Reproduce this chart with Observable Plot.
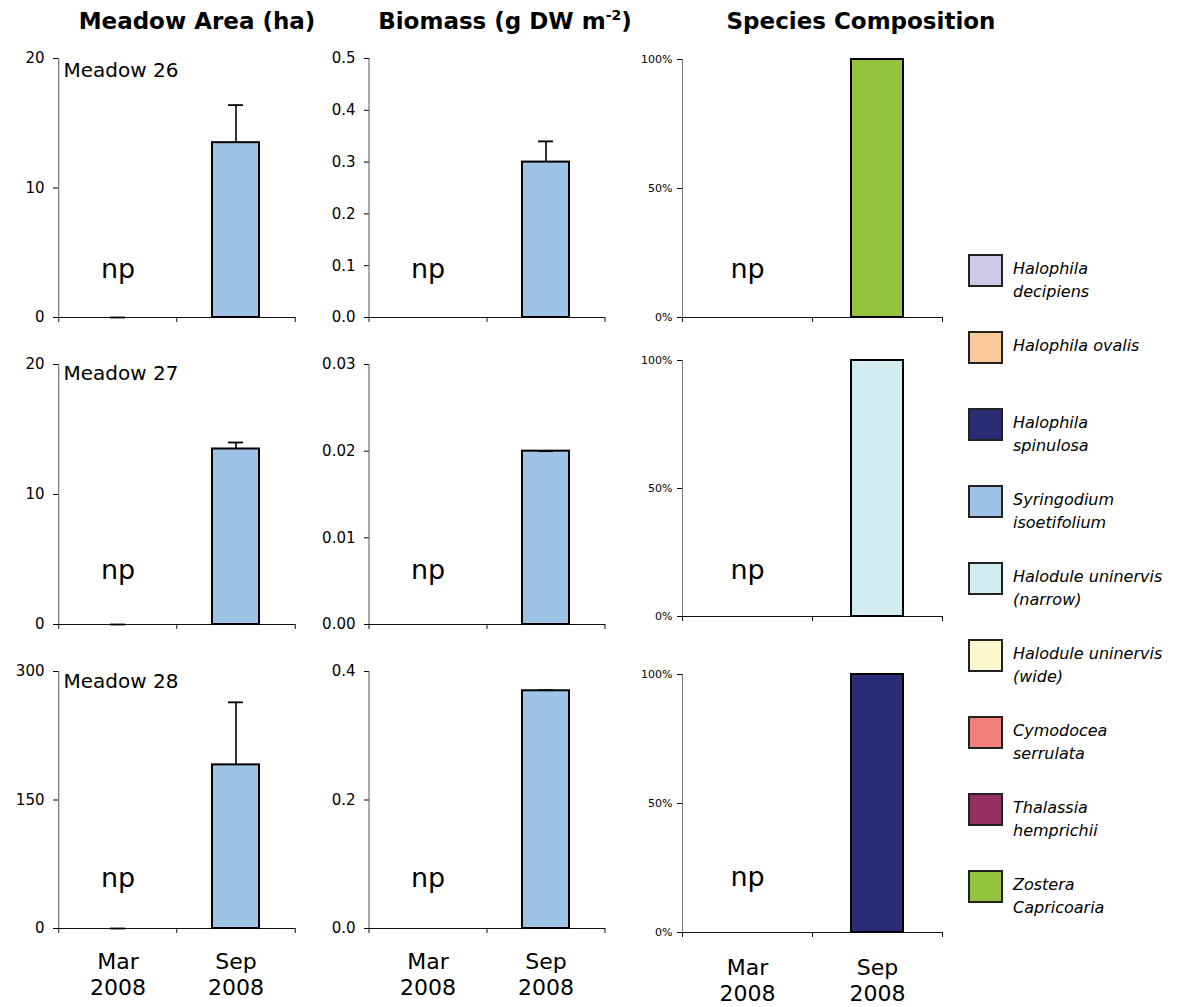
<!DOCTYPE html>
<html>
<head>
<meta charset="utf-8">
<script src="https://cdn.jsdelivr.net/npm/d3@7"></script>
<script src="https://cdn.jsdelivr.net/npm/@observablehq/plot@0.6"></script>
<style>
  html, body { margin: 0; padding: 0; background: #fff; }
  #chart { position: relative; width: 1177px; height: 1007px; overflow: hidden; font-family: "DejaVu Sans", sans-serif; color: #000; }
  .panel { position: absolute; }
  .title { position: absolute; top: 10px; font-size: 23px; font-weight: bold; line-height: 23px; white-space: nowrap; transform: translateX(-50%); }
  .title sup { font-size: 14px; line-height: 0; vertical-align: 9px; }
  .sw { position: absolute; width: 35px; height: 33px; box-sizing: border-box; border: 2px solid #222; }
  .lt { position: absolute; font-size: 16px; font-style: italic; line-height: 23px; white-space: pre; }
</style>
</head>
<body>
<div id="chart"></div>
<script>
// ---------------- data ----------------
const periods = ["Mar 2008", "Sep 2008"];
const meadows = ["Meadow 26", "Meadow 27", "Meadow 28"];
const absentLabel = "np";

// Meadow area (ha), per meadow: [Mar 2008, Sep 2008]
const area26 = [0, 13.5];
const area27 = [0, 13.5];
const area28 = [0, 191];
const areaErr26 = [0, 2.9];
const areaErr27 = [0, 0.5];
const areaErr28 = [0, 73];

// Biomass (g DW m-2); Mar 2008 not present
const biomass26 = [null, 0.30];
const biomass27 = [null, 0.02];
const biomass28 = [null, 0.37];
const biomassErr26 = [null, 0.04];
const biomassErr27 = [null, 0];
const biomassErr28 = [null, 0.001];

// tick labels
const areaTicks26 = [0, 10, 20];
const areaTicks27 = [0, 10, 20];
const areaTicks28 = [0, 150, 300];
const biomassTicks26 = [0, 0.1, 0.2, 0.3, 0.4, 0.5];
const biomassTicks27 = [0, 0.01, 0.02, 0.03];
const biomassTicks28 = [0, 0.2, 0.4];
const pctTicks = [0, 50, 100];

// species composition
const species = ["Halophila decipiens", "Halophila ovalis", "Halophila spinulosa", "Syringodium isoetifolium",
  "Halodule uninervis (narrow)", "Halodule uninervis (wide)", "Cymodocea serrulata", "Thalassia hemprichii", "Zostera Capricoaria"];
const legendLabels = ["Halophila\ndecipiens", "Halophila ovalis", "Halophila\nspinulosa", "Syringodium\nisoetifolium",
  "Halodule uninervis\n(narrow)", "Halodule uninervis\n(wide)", "Cymodocea\nserrulata", "Thalassia\nhemprichii", "Zostera\nCapricoaria"];
const speciesColors = ["#cccae6", "#fbca9b", "#2a2c74", "#9fc3e7", "#d1edf1", "#fdf9cf", "#f37f7d", "#93305f", "#95c33d"];
// % composition in Sep 2008 (Mar 2008: not present)
const comp26Sep = [0, 0, 0, 0, 0, 0, 0, 0, 100];
const comp27Sep = [0, 0, 0, 0, 100, 0, 0, 0, 0];
const comp28Sep = [0, 0, 100, 0, 0, 0, 0, 0, 0];

// ---------------- layout (pixels) ----------------
const cols = { area: [58, 295], biomass: [369, 605], species: [682, 942] };
const rowsAB = [[58, 317], [364, 624], [671, 928]];
const rowsC = [[59, 317], [360, 616], [674, 932]];
const npDyAB = [-40, -46, -42];
const npDyC = [-40, -38, -47];
const meadowDy = [4, 1, 2];
const barColor = speciesColors[3];

const chart = document.getElementById("chart");

function place(el, left, top) {
  const d = document.createElement("div");
  d.className = "panel";
  d.style.left = left + "px";
  d.style.top = top + "px";
  d.appendChild(el);
  chart.appendChild(d);
}

function npMark(dy) {
  return Plot.text([{period: periods[0], label: absentLabel}], {x: "period", text: "label", frameAnchor: "bottom",
    lineAnchor: "bottom", dy, fontSize: 27, textAnchor: "middle", fill: "#000"});
}

function panel({col, row, yMax, ticks, fmt, tickFont, tickPad, axisColor, marks, bottomRow, labelPad}) {
  const [x0, x1] = col;
  const [top, bottom] = row;
  const ML = 70, MR = 10, MT = 14, MB = bottomRow ? 75 : 14;
  const step = (x1 - x0) / periods.length;
  const width = x1 - x0 + ML + MR;
  const height = bottom - top + MT + MB;
  const all = [
    Plot.axisY({ticks, tickSize: 5, tickPadding: tickPad, fontSize: tickFont, tickFormat: fmt, label: null}),
    Plot.ruleX([periods[0]], {x: d => d, y1: 0, y2: yMax, dx: -step / 2, stroke: axisColor, strokeWidth: 1}),
    Plot.ruleY([0], {stroke: "#111", strokeWidth: 1}),
    Plot.ruleX(periods, {x: d => d, y1: 0, y2: 0, insetBottom: -5, dx: -step / 2, stroke: "#111"}),
    Plot.ruleX([periods[periods.length - 1]], {x: d => d, y1: 0, y2: 0, insetBottom: -5, dx: step / 2, stroke: "#111"}),
    ...marks
  ];
  if (bottomRow) {
    all.push(Plot.axisX({tickSize: 0, tickPadding: labelPad, fontSize: 22, lineHeight: 1.18,
      tickFormat: d => d.replace(" ", "\n"), label: null}));
  }
  const svg = Plot.plot({
    width, height, marginLeft: ML, marginRight: MR, marginTop: MT, marginBottom: MB,
    style: {fontFamily: "DejaVu Sans", color: "#000", background: "transparent", overflow: "visible"},
    x: {domain: periods, paddingInner: 0.6, paddingOuter: 0.3, axis: null},
    y: {domain: [0, yMax], axis: null},
    color: {domain: species, range: speciesColors},
    marks: all
  });
  place(svg, x0 - ML, top - MT);
}

function valueMarks(values, errors, i, label) {
  const data = periods.map((p, j) => ({period: p, value: values[j], err: errors[j]}));
  const defined = data.filter(d => d.value != null);
  const m = [
    Plot.barY(defined.filter(d => d.value > 0), {x: "period", y: "value", fill: barColor, stroke: "#000", strokeWidth: 2}),
    Plot.ruleX(defined.filter(d => d.err > 0), {x: "period", y1: "value", y2: d => d.value + d.err, stroke: "#000", strokeWidth: 1.6}),
    Plot.tickY(defined, {x: "period", y: d => d.value + d.err, insetLeft: 16, insetRight: 16, stroke: "#000", strokeWidth: 1.8}),
    npMark(npDyAB[i])
  ];
  if (label) {
    m.push(Plot.text([label], {frameAnchor: "top-left", textAnchor: "start", lineAnchor: "top", dx: 5, dy: meadowDy[i], fontSize: 20, fill: "#000"}));
  }
  return m;
}

const areaSets = [[area26, areaErr26, areaTicks26], [area27, areaErr27, areaTicks27], [area28, areaErr28, areaTicks28]];
const bioSets = [[biomass26, biomassErr26, biomassTicks26, 1], [biomass27, biomassErr27, biomassTicks27, 2], [biomass28, biomassErr28, biomassTicks28, 1]];
const compSets = [comp26Sep, comp27Sep, comp28Sep];

for (let i = 0; i < 3; i++) {
  const bottomRow = i === 2;
  const [av, ae, at] = areaSets[i];
  panel({col: cols.area, row: rowsAB[i], yMax: at[at.length - 1], ticks: at, fmt: d3.format("d"), tickFont: 15, tickPad: 9,
    axisColor: "#555", marks: valueMarks(av, ae, i, meadows[i]), bottomRow, labelPad: 22});

  const [bv, be, bt, dec] = bioSets[i];
  panel({col: cols.biomass, row: rowsAB[i], yMax: bt[bt.length - 1], ticks: bt, fmt: d3.format("." + dec + "f"), tickFont: 15, tickPad: 9,
    axisColor: "#555", marks: valueMarks(bv, be, i, null), bottomRow, labelPad: 22});

  const comp = compSets[i];
  const rows = species.map((s, k) => ({period: periods[1], species: s, pct: comp[k]})).filter(d => d.pct > 0);
  panel({col: cols.species, row: rowsC[i], yMax: 100, ticks: pctTicks, fmt: d => d + "%", tickFont: 11, tickPad: 5,
    axisColor: "#777", bottomRow, labelPad: 24,
    marks: [
      Plot.barY(rows, {x: "period", y: "pct", fill: "species", stroke: "#000", strokeWidth: 2}),
      npMark(npDyC[i])
    ]});
}

// titles
const titles = [["Meadow Area (ha)", 197], ["Biomass (g DW m<sup>-2</sup>)", 505], ["Species Composition", 861]];
for (const [t, cx] of titles) {
  const d = document.createElement("div");
  d.className = "title";
  d.style.left = cx + "px";
  d.innerHTML = t;
  chart.appendChild(d);
}

// legend
legendLabels.forEach((lab, k) => {
  const top = 254 + k * 77;
  const sw = document.createElement("div");
  sw.className = "sw";
  sw.style.left = "968px";
  sw.style.top = top + "px";
  sw.style.background = speciesColors[k];
  chart.appendChild(sw);
  const t = document.createElement("div");
  t.className = "lt";
  t.style.left = "1013px";
  t.style.top = (top + 3) + "px";
  t.textContent = lab;
  chart.appendChild(t);
});
</script>
</body>
</html>
